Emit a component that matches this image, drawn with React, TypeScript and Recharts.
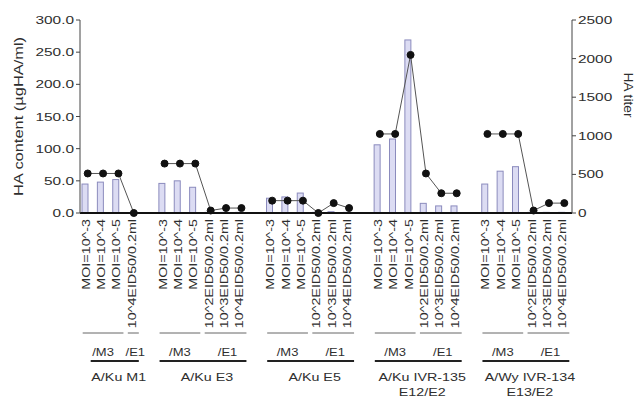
import React from "react";
import { ComposedChart, Bar, Line, XAxis, YAxis } from "recharts";

// ---------- data ----------
const groupNames = ["A/Ku M1", "A/Ku E3", "A/Ku E5", "A/Ku IVR-135", "A/Wy IVR-134"];
const groupSubNames = ["", "", "", "E12/E2", "E13/E2"];
const moiLabels = ["MOI=10^-3", "MOI=10^-4", "MOI=10^-5"];
const eidLabelsShort = ["10^4EID50/0.2ml"];
const eidLabels = ["10^2EID50/0.2ml", "10^3EID50/0.2ml", "10^4EID50/0.2ml"];

// HA content (ugHA/ml), left axis
const kuM1Content = [45, 48, 52, 0];
const kuE3Content = [46, 50, 40, 1, 1, 1];
const kuE5Content = [23, 25, 31, 1, 2, 1];
const kuIvr135Content = [106, 115, 269, 15, 11, 11];
const wyIvr134Content = [45, 65, 72, 1, 1, 1];

// HA titer, right axis
const kuM1Titer = [512, 512, 512, 0];
const kuE3Titer = [640, 640, 640, 32, 64, 64];
const kuE5Titer = [160, 160, 160, 0, 128, 64];
const kuIvr135Titer = [1024, 1024, 2048, 512, 256, 256];
const wyIvr134Titer = [1024, 1024, 1024, 32, 128, 128];

const leftTicks = [0, 50, 100, 150, 200, 250, 300];
const rightTicks = [0, 500, 1000, 1500, 2000, 2500];

const groups = [
  { labels: [...moiLabels, ...eidLabelsShort], content: kuM1Content, titer: kuM1Titer },
  { labels: [...moiLabels, ...eidLabels], content: kuE3Content, titer: kuE3Titer },
  { labels: [...moiLabels, ...eidLabels], content: kuE5Content, titer: kuE5Titer },
  { labels: [...moiLabels, ...eidLabels], content: kuIvr135Content, titer: kuIvr135Titer },
  { labels: [...moiLabels, ...eidLabels], content: wyIvr134Content, titer: wyIvr134Titer },
];

type Row = {
  id: string;
  label: string;
  content: number | null;
  titer: number | null;
  group: number;
  sub: string;
};

const rows: Row[] = [];
groups.forEach((g, gi) => {
  g.labels.forEach((lab, j) => {
    rows.push({
      id: `g${gi}-${j}`,
      label: lab,
      content: g.content[j],
      titer: g.titer[j],
      group: gi,
      sub: j < 3 ? "M3" : "E1",
    });
  });
  if (gi < groups.length - 1) {
    rows.push({ id: `gap${gi}`, label: "", content: null, titer: null, group: -1, sub: "" });
  }
});

// ---------- layout ----------
const W = 635;
const H = 400;
const LEFT_AXIS_W = 80;
const RIGHT_AXIS_W = 63;
const TOP = 20;
const XAXIS_H = 187;
const PLOT_W = W - LEFT_AXIS_W - RIGHT_AXIS_W;
const SLOT = PLOT_W / rows.length;

const FONT = "'Liberation Sans', Arial, sans-serif";
const TXT = "#2e2e2e";

function XTick(props: any) {
  const { x, payload, index } = props;
  const i = payload && typeof payload.index === "number" ? payload.index : index;
  const row = rows[i];
  if (!row) return null;
  const els: any[] = [];
  if (row.label) {
    els.push(
      <text
        key="lab"
        transform={`translate(${x + 2},219) rotate(-90) scale(1.3,1)`}
        textAnchor="end"
        fontSize={11}
        fontFamily={FONT}
        fill={TXT}
      >
        {row.label}
      </text>
    );
  }
  if (row.group >= 0 && (i === 0 || rows[i - 1].group !== row.group)) {
    const members = rows.map((r, k) => ({ r, k })).filter((o) => o.r.group === row.group);
    const moi = members.filter((o) => o.r.sub === "M3").map((o) => o.k);
    const eid = members.filter((o) => o.r.sub === "E1").map((o) => o.k);
    const cx = (k: number) => x + (k - i) * SLOT;
    const mS = cx(moi[0]) - 5;
    const mE = cx(moi[moi.length - 1]) + 5;
    const eS = cx(eid[0]) - 6;
    const eE = cx(eid[eid.length - 1]) + 5;
    els.push(<line key="ml" x1={mS} x2={mE} y1={333} y2={333} stroke="#666" strokeWidth={1} />);
    els.push(<line key="el" x1={eS} x2={eE} y1={333} y2={333} stroke="#666" strokeWidth={1} />);
    els.push(
      <text key="mt" transform={`translate(${(mS + mE) / 2},356) scale(1.3,1)`} textAnchor="middle" fontSize={10} fontFamily={FONT} fill={TXT}>
        /M3
      </text>
    );
    els.push(
      <text key="et" transform={`translate(${(eS + eE) / 2 + 2},356) scale(1.3,1)`} textAnchor="middle" fontSize={10} fontFamily={FONT} fill={TXT}>
        /E1
      </text>
    );
    const gS = row.group === 0 ? mS + 8 : mS;
    els.push(<line key="gl" x1={gS} x2={eE} y1={361} y2={361} stroke="#222" strokeWidth={2} />);
    const gc = (gS + eE) / 2 + 4;
    els.push(
      <text key="gn" transform={`translate(${gc},381) scale(1.3,1)`} textAnchor="middle" fontSize={11} fontFamily={FONT} fill={TXT}>
        {groupNames[row.group]}
      </text>
    );
    if (groupSubNames[row.group]) {
      els.push(
        <text key="gs" transform={`translate(${gc},396) scale(1.3,1)`} textAnchor="middle" fontSize={11} fontFamily={FONT} fill={TXT}>
          {groupSubNames[row.group]}
        </text>
      );
    }
  }
  return <g>{els}</g>;
}

function LeftTick(props: any) {
  const { x, y, payload } = props;
  return (
    <text transform={`translate(${x},${y + 4}) scale(1.4,1)`} textAnchor="end" fontSize={11} fontFamily={FONT} fill={TXT}>
      {Number(payload.value).toFixed(1)}
    </text>
  );
}

function RightTick(props: any) {
  const { x, y, payload } = props;
  return (
    <text transform={`translate(${x},${y + 4}) scale(1.4,1)`} textAnchor="start" fontSize={11} fontFamily={FONT} fill={TXT}>
      {payload.value}
    </text>
  );
}

function LeftTitle(props: any) {
  const vb = props.viewBox || { x: 0, y: TOP, width: LEFT_AXIS_W, height: 193 };
  return (
    <text
      transform={`translate(${vb.x + 23},${vb.y + vb.height / 2}) rotate(-90) scale(1.37,1)`}
      textAnchor="middle"
      fontSize={12}
      fontFamily={FONT}
      fill={TXT}
    >
      HA content (µgHA/ml)
    </text>
  );
}

function RightTitle(props: any) {
  const vb = props.viewBox || { x: W - RIGHT_AXIS_W, y: TOP, width: RIGHT_AXIS_W, height: 193 };
  return (
    <text
      transform={`translate(${vb.x + 52},${vb.y + 75}) rotate(90) scale(1.15,1)`}
      textAnchor="middle"
      fontSize={12}
      fontFamily={FONT}
      fill={TXT}
    >
      HA titer
    </text>
  );
}

function BarShape(props: any) {
  const { x, y, width, height } = props;
  if (height == null || !(height > 0)) return null;
  return <rect x={x - 3} y={y} width={width} height={height} fill="#dcdcf3" stroke="#8b8bbd" strokeWidth={1} />;
}

export default function App() {
  return (
    <div style={{ position: "absolute", left: 0, top: 0, background: "#fff" }}>
      <ComposedChart width={W} height={H} data={rows} margin={{ top: TOP, right: 0, bottom: 0, left: 0 }}>
        <XAxis
          dataKey="id"
          xAxisId={0}
          interval={0}
          height={XAXIS_H}
          tickLine={false}
          axisLine={{ stroke: "#111", strokeWidth: 2 }}
          tick={(p: any) => <XTick {...p} />}
        />
        <YAxis
          yAxisId="left"
          orientation="left"
          width={LEFT_AXIS_W}
          domain={[0, 300]}
          ticks={leftTicks}
          tickSize={4}
          tickMargin={2}
          axisLine={{ stroke: "#444" }}
          tickLine={{ stroke: "#444" }}
          tick={(p: any) => <LeftTick {...p} />}
          label={<LeftTitle />}
        />
        <YAxis
          yAxisId="right"
          orientation="right"
          width={RIGHT_AXIS_W}
          domain={[0, 2500]}
          ticks={rightTicks}
          tickSize={4}
          tickMargin={2}
          axisLine={{ stroke: "#444" }}
          tickLine={{ stroke: "#444" }}
          tick={(p: any) => <RightTick {...p} />}
          label={<RightTitle />}
        />
        <Bar yAxisId="left" dataKey="content" barSize={6} shape={(p: any) => <BarShape {...p} />} isAnimationActive={false} />
        <Line
          yAxisId="right"
          dataKey="titer"
          stroke="#555"
          strokeWidth={1}
          connectNulls={false}
          dot={{ r: 3.5, fill: "#111", stroke: "#111", strokeWidth: 1 }}
          activeDot={false}
          isAnimationActive={false}
        />
      </ComposedChart>
    </div>
  );
}
